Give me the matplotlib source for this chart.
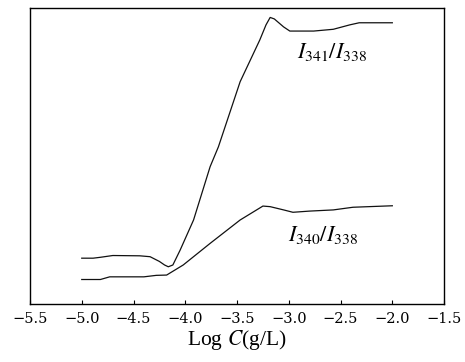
import matplotlib
matplotlib.use("Agg")
import matplotlib.pyplot as plt

plt.rcParams["font.family"] = "Liberation Serif"
plt.rcParams["mathtext.fontset"] = "stix"

# log concentration (g/L) and normalised intensity ratios
log_c_341 = [-5.0, -4.89, -4.82, -4.70, -4.44, -4.34, -4.25, -4.20, -4.164, -4.12,
             -4.05, -3.92, -3.76, -3.68, -3.47, -3.28, -3.22, -3.18, -3.14, -3.05,
             -2.99, -2.76, -2.57, -2.41, -2.32, -2.0]
ratio_341 = [0.155, 0.155, 0.158, 0.164, 0.163, 0.160, 0.144, 0.132, 0.126, 0.132,
             0.182, 0.284, 0.464, 0.531, 0.751, 0.892, 0.943, 0.968, 0.963, 0.936,
             0.922, 0.922, 0.928, 0.943, 0.950, 0.950]

log_c_340 = [-5.0, -4.82, -4.73, -4.40, -4.28, -4.18, -4.02, -3.76, -3.47, -3.25,
             -3.18, -3.05, -2.96, -2.80, -2.57, -2.38, -2.0]
ratio_340 = [0.083, 0.083, 0.092, 0.092, 0.097, 0.098, 0.132, 0.205, 0.284, 0.331,
             0.329, 0.318, 0.310, 0.314, 0.318, 0.327, 0.332]

x_ticks = [-5.5, -5.0, -4.5, -4.0, -3.5, -3.0, -2.5, -2.0, -1.5]

fig = plt.figure(figsize=(4.65, 3.62), dpi=100)
ax = fig.add_axes([0.0645, 0.160, 0.8905, 0.818])

ax.plot(log_c_341, ratio_341, color="#111111", lw=0.9)
ax.plot(log_c_340, ratio_340, color="#111111", lw=0.9)

ax.text(-2.58, 0.852, r"$I_{341}/I_{338}$", fontsize=16, ha="center", va="center")
ax.text(-2.67, 0.233, r"$I_{340}/I_{338}$", fontsize=16, ha="center", va="center")

ax.set_xlim(-5.5, -1.5)
ax.set_ylim(0, 1)
ax.set_xticks(x_ticks)
ax.set_xticklabels([f"\u2212{abs(v):.1f}" for v in x_ticks], family="DejaVu Serif")
ax.set_yticks([])
ax.tick_params(axis="x", direction="in", length=3, labelsize=10.5, pad=6)
for sp in ax.spines.values():
    sp.set_linewidth(1.0)

ax.set_xlabel("Log $C$(g/L)", fontsize=15.5, labelpad=1)

fig.savefig("out.png", dpi=100)
